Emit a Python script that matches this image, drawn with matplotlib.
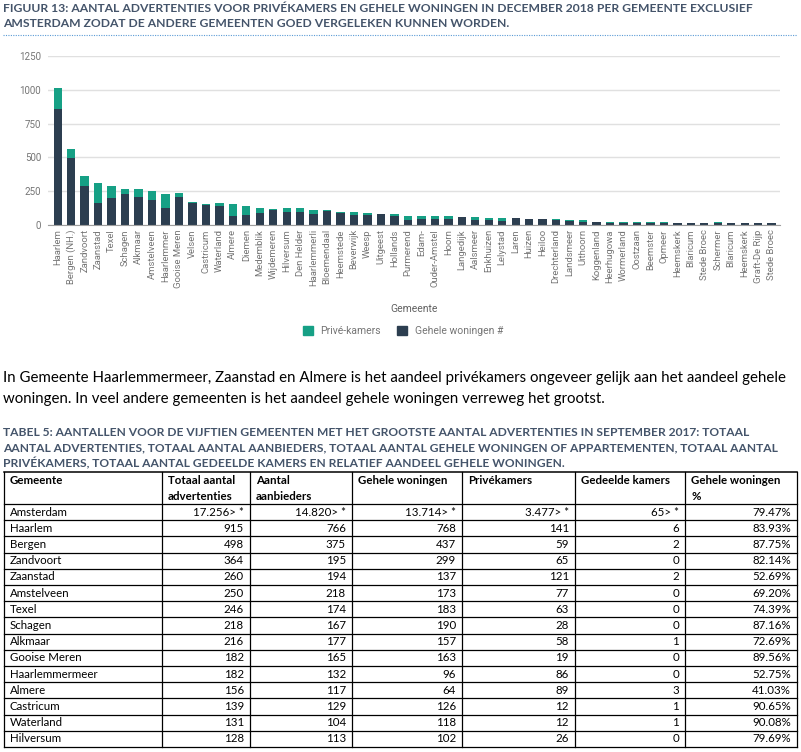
import numpy as np
import matplotlib
matplotlib.use("Agg")
import matplotlib.pyplot as plt
from matplotlib import font_manager
from matplotlib.patches import Patch

# chart data
gemeenten = ["Haarlem", "Bergen (NH.)", "Zandvoort", "Zaanstad", "Texel",
             "Schagen", "Alkmaar", "Amstelveen", "Haarlemmer", "Gooise Meren",
             "Velsen", "Castricum", "Waterland", "Almere", "Diemen",
             "Medemblik", "Wijdemeren", "Hilversum", "Den Helder",
             "Haarlemmerli", "Bloemendaal", "Heemstede", "Beverwijk", "Weesp",
             "Uitgeest", "Hollands", "Purmerend", "Edam-", "Ouder-Amstel",
             "Hoorn", "Langedijk", "Aalsmeer", "Enkhuizen", "Lelystad",
             "Laren", "Huizen", "Heiloo", "Drechterland", "Landsmeer",
             "Uithoorn", "Koggenland", "Heerhugowa", "Wormerland", "Oostzaan",
             "Beemster", "Opmeer", "Heemskerk", "Blaricum", "Stede Broec",
             "Schermer", "Blaricum", "Heemskerk", "Graft-De Rijp",
             "Stede Broec"]
gehele_woningen = [855, 497, 290, 165, 199, 229, 204, 182, 123, 204,
                   160, 148, 143, 66, 76, 89, 111, 98, 93, 84,
                   106, 91, 76, 76, 81, 66, 34, 42, 44, 47,
                   57, 37, 37, 32, 49, 42, 42, 34, 32, 25,
                   20, 12, 15, 18, 12, 12, 12, 14, 14, 12,
                   14, 12, 14, 14]
prive_kamers = [155, 63, 69, 142, 86, 39, 59, 69, 108, 30,
                10, 9, 19, 91, 64, 39, 10, 25, 30, 24,
                2, 7, 17, 13, 3, 18, 30, 26, 25, 22,
                2, 22, 15, 22, 3, 2, 2, 13, 7, 9,
                5, 13, 5, 2, 8, 8, 3, 1, 1, 8,
                1, 3, 1, 1]
y_ticks = [0, 250, 500, 750, 1000, 1250]

# table data
tab_header = [["Gemeente"], ["Totaal aantal", "advertenties"],
              ["Aantal", "aanbieders"], ["Gehele woningen"], ["Privékamers"],
              ["Gedeelde kamers"], ["Gehele woningen", "%"]]
tab_gemeente = ["Amsterdam", "Haarlem", "Bergen", "Zandvoort", "Zaanstad",
                "Amstelveen", "Texel", "Schagen", "Alkmaar", "Gooise Meren",
                "Haarlemmermeer", "Almere", "Castricum", "Waterland",
                "Hilversum"]
tab_totaal = ["17.256> *", "915", "498", "364", "260", "250", "246", "218",
              "216", "182", "182", "156", "139", "131", "128"]
tab_aanbieders = ["14.820> *", "766", "375", "195", "194", "218", "174",
                  "167", "177", "165", "132", "117", "129", "104", "113"]
tab_gehele = ["13.714> *", "768", "437", "299", "137", "173", "183", "190",
              "157", "163", "96", "64", "126", "118", "102"]
tab_prive = ["3.477> *", "141", "59", "65", "121", "77", "63", "28", "58",
             "19", "86", "89", "12", "12", "26"]
tab_gedeeld = ["65> *", "6", "2", "0", "2", "0", "0", "0", "1", "0", "0",
               "3", "1", "1", "0"]
tab_pct = ["79.47%", "83.93%", "87.75%", "82.14%", "52.69%", "69.20%",
           "74.39%", "87.16%", "72.69%", "89.56%", "52.75%", "41.03%",
           "90.65%", "90.08%", "79.69%"]

fig_caption = ["FIGUUR 13: AANTAL ADVERTENTIES VOOR PRIVÉKAMERS EN GEHELE "
               "WONINGEN IN DECEMBER 2018 PER GEMEENTE EXCLUSIEF",
               "AMSTERDAM ZODAT DE ANDERE GEMEENTEN GOED VERGELEKEN KUNNEN "
               "WORDEN."]
paragraph = ["In Gemeente Haarlemmermeer, Zaanstad en Almere is het aandeel "
             "privékamers ongeveer gelijk aan het aandeel gehele",
             "woningen. In veel andere gemeenten is het aandeel gehele "
             "woningen verreweg het grootst."]
tab_caption = ["TABEL 5: AANTALLEN VOOR DE VIJFTIEN GEMEENTEN MET HET "
               "GROOTSTE AANTAL ADVERTENTIES IN SEPTEMBER 2017: TOTAAL",
               "AANTAL ADVERTENTIES, TOTAAL AANTAL AANBIEDERS, TOTAAL AANTAL "
               "GEHELE WONINGEN OF APPARTEMENTEN, TOTAAL AANTAL",
               "PRIVÉKAMERS, TOTAAL AANTAL GEDEELDE KAMERS EN RELATIEF "
               "AANDEEL GEHELE WONINGEN."]

GREEN = "#16a085"
DARK = "#2c3e50"
CAPTION = "#44546a"
GREY = "#757575"


def pick_font(names):
    for name in names:
        try:
            font_manager.findfont(name, fallback_to_default=False)
            return name
        except ValueError:
            pass
    return "DejaVu Sans"


BODY = pick_font(["Lato", "Open Sans", "Liberation Sans"])
CHART = pick_font(["Roboto", "DejaVu Sans"])

W, H = 801, 752
fig = plt.figure(figsize=(W / 100, H / 100), dpi=100)
renderer = fig.canvas.get_renderer()

# page axes in pixel coordinates for all the document text
page = fig.add_axes([0, 0, 1, 1])
page.set_xlim(0, W)
page.set_ylim(H, 0)
page.axis("off")


def fit(txt, width):
    # scale the font so the line is as wide as in the reference
    w = txt.get_window_extent(renderer).width
    txt.set_fontsize(txt.get_fontsize() * width / w)
    return txt.get_fontsize()


# figure caption + dotted rule
t = page.text(3, 8, fig_caption[0], family=BODY, weight="bold",
              color=CAPTION, va="center", fontsize=9)
size = fit(t, 750)
page.text(3, 23.5, fig_caption[1], family=BODY, weight="bold",
          color=CAPTION, va="center", fontsize=size)
page.plot([3, 797], [35, 35], color="#5b9bd5", lw=0.8, ls=(0, (1, 1.2)))

# stacked bar chart
ax = fig.add_axes([48 / W, (H - 225) / H, (780 - 48) / W, (225 - 56) / H])
x = np.arange(len(gemeenten))
ax.bar(x, gehele_woningen, width=0.62, color=DARK, zorder=2)
ax.bar(x, prive_kamers, bottom=gehele_woningen, width=0.62, color=GREEN,
       zorder=2)
ax.set_xlim(-0.72, len(gemeenten) - 1 + 0.62)
ax.set_ylim(0, 1250)
ax.set_yticks(y_ticks)
ax.grid(axis="y", color="#e0e0e0", lw=1)
ax.set_axisbelow(True)
for side in ["top", "right", "left"]:
    ax.spines[side].set_visible(False)
ax.spines["bottom"].set_color("#9e9e9e")
ax.tick_params(axis="y", length=0, pad=5, labelsize=7, labelcolor=GREY)
ax.tick_params(axis="x", length=0, pad=3, labelsize=6.8, labelcolor=GREY)
ax.set_xticks(x, gemeenten, rotation=90)
for lab in ax.get_xticklabels() + ax.get_yticklabels():
    lab.set_family(CHART)

page.text(414, 309, "Gemeente", family=CHART, fontsize=7.5, color="#616161",
          ha="center", va="center")
leg = fig.legend(handles=[Patch(color=GREEN, label="Privé-kamers"),
                          Patch(color=DARK, label="Gehele woningen #")],
                 loc="center", bbox_to_anchor=(403 / W, 1 - 331 / H),
                 ncol=2, frameon=False, handlelength=0.95,
                 handleheight=0.95, columnspacing=1.6, handletextpad=0.7,
                 labelcolor=GREY, prop={"family": CHART, "size": 7.5})

# paragraph
t = page.text(3, 378, paragraph[0], family=BODY, color="black",
              va="center", fontsize=11)
size = fit(t, 780)
page.text(3, 399, paragraph[1], family=BODY, color="black", va="center",
          fontsize=size)

# table caption
t = page.text(3, 433, tab_caption[0], family=BODY, weight="bold",
              color=CAPTION, va="center", fontsize=9)
size = fit(t, 743)
for i, line in enumerate(tab_caption[1:]):
    page.text(3, 448 + 15 * i, line, family=BODY, weight="bold",
              color=CAPTION, va="center", fontsize=size)

# table
col_x = [4, 162, 250, 352, 462, 575, 685, 797]
top, head_bot, row_h = 472, 504, 16.2
n_rows = len(tab_gemeente)
bottom = head_bot + n_rows * row_h

probe = page.text(0, -50, "Haarlemmermeer", family=BODY, fontsize=10)
cell_size = fit(probe, 88)
probe.remove()

for i, lines in enumerate(tab_header):
    for j, line in enumerate(lines):
        page.text(col_x[i] + 6, 481 + 15 * j, line, family=BODY,
                  weight="bold", fontsize=cell_size, va="center")

columns = [tab_totaal, tab_aanbieders, tab_gehele, tab_prive, tab_gedeeld,
           tab_pct]
for r in range(n_rows):
    yc = head_bot + (r + 0.5) * row_h
    page.text(col_x[0] + 6, yc, tab_gemeente[r], family=BODY,
              fontsize=cell_size, va="center")
    for c, col in enumerate(columns):
        page.text(col_x[c + 2] - 6, yc, col[r], family=BODY,
                  fontsize=cell_size, va="center", ha="right")

for xv in col_x:
    page.plot([xv, xv], [top, bottom], color="black", lw=0.9)
page.plot([col_x[0], col_x[-1]], [top, top], color="black", lw=1.1)
for r in range(n_rows + 1):
    yv = head_bot + r * row_h
    page.plot([col_x[0], col_x[-1]], [yv, yv], color="black", lw=0.9)

fig.savefig("out.png", dpi=100)
